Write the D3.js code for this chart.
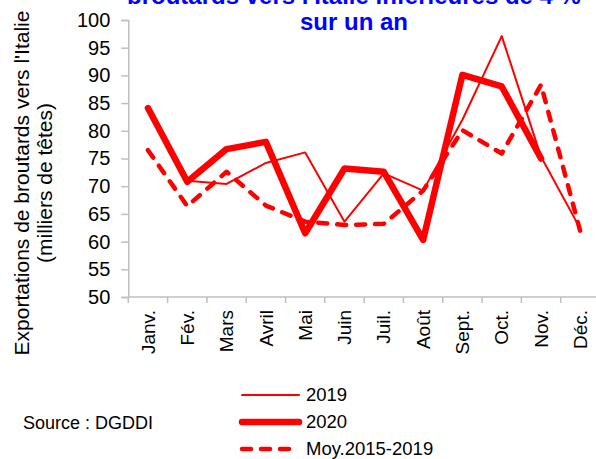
<!DOCTYPE html>
<html>
<head>
<meta charset="utf-8">
<script src="https://cdn.jsdelivr.net/npm/d3@7"></script>
<style>
  body { margin: 0; background: #fff; }
  svg { display: block; font-family: "Liberation Sans", Arial, sans-serif; }
</style>
</head>
<body>
<script>
const months = ["Janv.", "Fév.", "Mars", "Avril", "Mai", "Juin", "Juil.", "Août", "Sept.", "Oct.", "Nov.", "Déc."];
const v2019 = [null, 71, 70.4, 74.2, 76.1, 63.6, 72.3, 69.2, 82, 97.1, 75.3, 62.3];
const v2020 = [84.1, 70.8, 76.7, 78, 61.5, 73.2, 72.6, 60.3, 90.1, 88, 75, null];
const vMoy = [76.5, 66.4, 72.6, 66.5, 63.6, 63, 63.2, 69.2, 80.1, 75.9, 88.3, 61.8];
const yTicks = [50, 55, 60, 65, 70, 75, 80, 85, 90, 95, 100];
const titleLines = ["broutards vers l'Italie inférieures de 4 %", "sur un an"];
const yLabelLines = ["Exportations de broutards vers l'Italie", "(milliers de têtes)"];

const w = 596, h = 459;
const svg = d3.select("body").append("svg")
              .attr("width", w)
              .attr("height", h)

const x = d3.scaleBand().domain(months).range([128.3, 600]);
const y = d3.scaleLinear().domain([50, 100]).range([297, 20]);
const axisColor = "#bfbfbf";

// title (top line is cut by the frame)
svg.selectAll(".title")
   .data(titleLines)
   .enter()
   .append("text")
   .attr("class", "title")
   .attr("x", 354)
   .attr("y", (d, i) => 3.5 + i * 26.7)
   .attr("text-anchor", "middle")
   .attr("fill", "#0000ff")
   .style("font-weight", "bold")
   .style("font-size", "24px")
   .text(d => d)

// y axis
const yAxis = svg.append("g")
                 .attr("transform", "translate(128.3,0)")
                 .call(d3.axisLeft(y).tickValues(yTicks).tickSize(7).tickPadding(11))
yAxis.selectAll("line, path").attr("stroke", axisColor).attr("stroke-width", 1.5)
yAxis.selectAll("text").attr("fill", "#000").style("font-size", "20px").style("font-family", "Liberation Sans, Arial, sans-serif")

// x axis: ticks on band edges
const xAxis = svg.append("g")
                 .attr("transform", "translate(0,297)")
xAxis.append("line")
     .attr("x1", 128.3).attr("x2", 600)
     .attr("stroke", axisColor).attr("stroke-width", 1.5)
xAxis.selectAll(".tk")
     .data(months)
     .enter()
     .append("line")
     .attr("x1", d => x(d)).attr("x2", d => x(d))
     .attr("y1", 0).attr("y2", 6)
     .attr("stroke", axisColor).attr("stroke-width", 1.5)
xAxis.selectAll(".lbl")
     .data(months)
     .enter()
     .append("text")
     .attr("transform", d => "translate(" + (x(d) + x.bandwidth() / 2) + ",13) rotate(-90)")
     .attr("text-anchor", "end")
     .attr("dy", "0.35em")
     .style("font-size", "19px")
     .text(d => d)

// y label
svg.selectAll(".ylab")
   .data(yLabelLines)
   .enter()
   .append("text")
   .attr("transform", (d, i) => "translate(" + (29 + i * 23) + ",183) rotate(-90)")
   .attr("text-anchor", "middle")
   .style("font-size", "21px")
   .text(d => d)

const cx = m => x(m) + x.bandwidth() / 2;
const line = d3.line()
               .defined(d => d.v !== null)
               .x(d => cx(d.m))
               .y(d => y(d.v))

const series = [
  { vals: v2019, width: 2, dash: null },
  { vals: v2020, width: 6.5, dash: null },
  { vals: vMoy, width: 4.5, dash: "9,10" }
]

series.forEach(s => {
  svg.append("path")
     .datum(months.map((m, i) => ({ m: m, v: s.vals[i] })))
     .attr("d", line)
     .attr("fill", "none")
     .attr("stroke", "#ff0000")
     .attr("stroke-width", s.width)
     .attr("stroke-linejoin", "round")
     .attr("stroke-linecap", "round")
     .attr("stroke-dasharray", s.dash)
})

// legend
const legendNames = ["2019", "2020", "Moy.2015-2019"];
const legend = svg.selectAll(".leg")
                  .data(series)
                  .enter()
                  .append("g")
                  .attr("transform", (d, i) => "translate(0," + (395 + i * 27) + ")")
legend.append("line")
      .attr("x1", 242).attr("x2", 299)
      .attr("stroke", "#ff0000")
      .attr("stroke-width", d => d.width)
      .attr("stroke-linecap", "round")
      .attr("stroke-dasharray", d => d.dash)
legend.append("text")
      .attr("x", 306)
      .attr("dy", "0.35em")
      .style("font-size", "18.5px")
      .text((d, i) => legendNames[i])

svg.append("text")
   .attr("x", 23)
   .attr("y", 423)
   .attr("dy", "0.35em")
   .style("font-size", "18px")
   .text("Source : DGDDI")
</script>
</body>
</html>
